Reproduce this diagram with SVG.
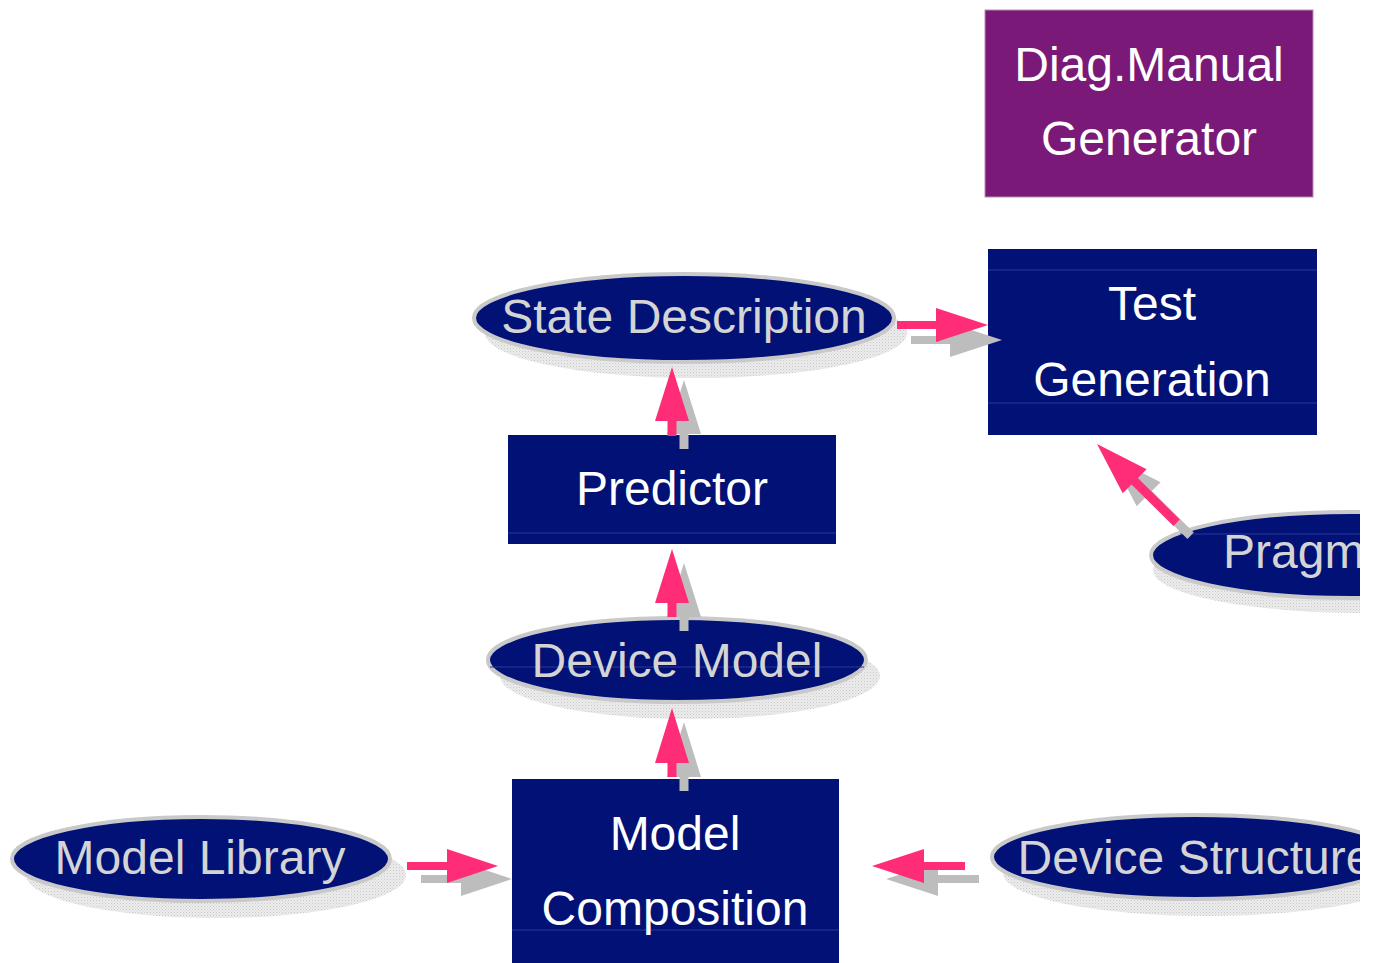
<svg xmlns="http://www.w3.org/2000/svg" width="1373" height="963" viewBox="0 0 1373 963">
<style>
.box{fill:#011176;}
.ell{fill:#011176;stroke:#c9c9c9;stroke-width:4;}
.sh{fill:url(#hatch);}
.t{font-family:"Liberation Sans",Arial,sans-serif;font-size:48px;text-anchor:middle;}
.tw{fill:#ffffff;}
.tg{fill:#d4d4d4;}
.fl{stroke:#2c3a94;stroke-width:1;}
.pk{fill:#ff2d78;}
.gr{fill:#bdbdbd;}
</style>
<defs>
<pattern id="hatch" width="3" height="3" patternUnits="userSpaceOnUse">
<rect width="3" height="3" fill="#ececec"/>
<rect width="1" height="1" fill="#c8c8c8"/>
<rect x="1.5" y="1.5" width="1" height="1" fill="#d4d4d4"/>
</pattern>
<clipPath id="frame"><rect x="0" y="0" width="1360" height="963"/></clipPath>
</defs>
<rect width="1373" height="963" fill="#ffffff"/>
<g clip-path="url(#frame)">
<g id="diag-manual-generator">
<rect x="985" y="10" width="328" height="187" fill="#7a1977" stroke="#b98ab8" stroke-width="1"/>
<text class="t tw" x="1149" y="81">Diag.Manual</text>
<text class="t tw" x="1149" y="155">Generator</text>
</g>
<g id="test-generation">
<rect class="box" x="988" y="249" width="329" height="186"/>
<line class="fl" x1="988" y1="270" x2="1317" y2="270"/>
<line class="fl" x1="988" y1="403" x2="1317" y2="403"/>
<text class="t tw" x="1152" y="320">Test</text>
<text class="t tw" x="1152" y="396">Generation</text>
</g>
<g id="state-description">
<ellipse class="sh" cx="696" cy="333" rx="211" ry="45"/>
<ellipse class="ell" cx="684" cy="318" rx="210" ry="44"/>
<text class="t tg" x="684" y="333">State Description</text>
</g>
<g id="predictor">
<rect class="box" x="508" y="435" width="328" height="109"/>
<line class="fl" x1="508" y1="533" x2="836" y2="533"/>
<text class="t tw" x="672" y="505">Predictor</text>
</g>
<g id="pragm">
<ellipse class="sh" cx="1363" cy="570" rx="210" ry="43"/>
<ellipse class="ell" cx="1351" cy="555" rx="200" ry="43"/>
<line class="fl" x1="1180" y1="534" x2="1360" y2="534"/>
<text class="t tg" x="1223" y="568" text-anchor="start" style="text-anchor:start">Pragm</text>
</g>
<g id="device-model">
<ellipse class="sh" cx="690" cy="676" rx="190" ry="43"/>
<ellipse class="ell" cx="677" cy="660" rx="189" ry="42"/>
<line class="fl" x1="490" y1="667" x2="864" y2="667"/>
<text class="t tg" x="677" y="677">Device Model</text>
</g>
<g id="model-composition">
<rect class="box" x="512" y="779" width="327" height="190"/>
<line class="fl" x1="512" y1="930" x2="839" y2="930"/>
<text class="t tw" x="675" y="850">Model</text>
<text class="t tw" x="675" y="925">Composition</text>
</g>
<g id="model-library">
<ellipse class="sh" cx="216" cy="875" rx="190" ry="43"/>
<ellipse class="ell" cx="201" cy="859" rx="189" ry="42"/>
<text class="t tg" x="200" y="874">Model Library</text>
</g>
<g id="device-structure">
<ellipse class="sh" cx="1207" cy="873" rx="204" ry="43"/>
<ellipse class="ell" cx="1195" cy="857" rx="203" ry="42"/>
<text class="t tg" x="1195" y="874">Device Structure</text>
</g>
<g id="connectors">
<!-- State Description -> Test Generation -->
<path class="gr" transform="translate(1002,340) rotate(180)" d="M0,0 L52,-17 L52,-4 L91,-4 L91,4 L52,4 L52,17 Z"/>
<path class="pk" transform="translate(988,325) rotate(180)" d="M0,0 L52,-17 L52,-4 L91,-4 L91,4 L52,4 L52,17 Z"/>
<!-- Predictor -> State Description -->
<path class="gr" transform="translate(684,380) rotate(90)" d="M0,0 L54,-17 L54,-4.5 L69,-4.5 L69,4.5 L54,4.5 L54,17 Z"/>
<path class="pk" transform="translate(672,367) rotate(90)" d="M0,0 L54,-17 L54,-4.5 L69,-4.5 L69,4.5 L54,4.5 L54,17 Z"/>
<!-- Device Model -> Predictor -->
<path class="gr" transform="translate(684,563) rotate(90)" d="M0,0 L54,-17 L54,-4.5 L68,-4.5 L68,4.5 L54,4.5 L54,17 Z"/>
<path class="pk" transform="translate(672,549) rotate(90)" d="M0,0 L54,-17 L54,-4.5 L68,-4.5 L68,4.5 L54,4.5 L54,17 Z"/>
<!-- Model Composition -> Device Model -->
<path class="gr" transform="translate(684,722) rotate(90)" d="M0,0 L55,-17 L55,-4.5 L69,-4.5 L69,4.5 L55,4.5 L55,17 Z"/>
<path class="pk" transform="translate(672,708) rotate(90)" d="M0,0 L55,-17 L55,-4.5 L69,-4.5 L69,4.5 L55,4.5 L55,17 Z"/>
<!-- Model Library -> Model Composition -->
<path class="gr" transform="translate(512,879) rotate(180)" d="M0,0 L51,-17 L51,-4 L91,-4 L91,4 L51,4 L51,17 Z"/>
<path class="pk" transform="translate(498,866) rotate(180)" d="M0,0 L51,-17 L51,-4 L91,-4 L91,4 L51,4 L51,17 Z"/>
<!-- Device Structure -> Model Composition -->
<path class="gr" transform="translate(886,879)" d="M0,0 L52,-17 L52,-4 L93,-4 L93,4 L52,4 L52,17 Z"/>
<path class="pk" transform="translate(872,866)" d="M0,0 L52,-17 L52,-4 L93,-4 L93,4 L52,4 L52,17 Z"/>
<!-- Pragm -> Test Generation -->
<path class="gr" transform="translate(1111,457) rotate(44.7)" d="M0,0 L53,-17 L53,-4.5 L112,-4.5 L112,4.5 L53,4.5 L53,17 Z"/>
<path class="pk" transform="translate(1097,444) rotate(44.7)" d="M0,0 L53,-17 L53,-4.5 L112,-4.5 L112,4.5 L53,4.5 L53,17 Z"/>
</g>
</g>
</svg>
